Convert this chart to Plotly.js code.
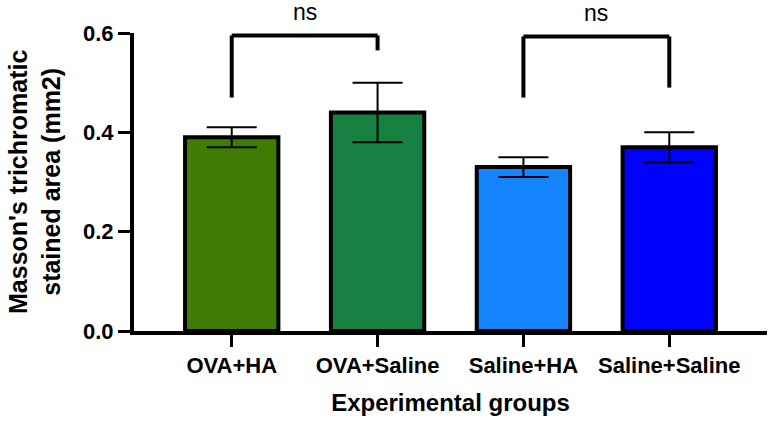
<!DOCTYPE html>
<html>
<head>
<meta charset="utf-8">
<script src="https://cdn.plot.ly/plotly-3.0.1.min.js"></script>
<style>html,body{margin:0;padding:0;background:#fff}#chart{width:776px;height:429px}</style>
</head>
<body>
<div id="chart"></div>
<script>
const categories = ["OVA+HA", "OVA+Saline", "Saline+HA", "Saline+Saline"];
const means = [0.39, 0.44, 0.33, 0.37];
const errors = [0.02, 0.06, 0.02, 0.03];
const yTicks = [0.0, 0.2, 0.4, 0.6];
const yTickLabels = ["0.0", "0.2", "0.4", "0.6"];
// comparison brackets: [left category, right category, left leg end, right leg end, top]
const comparisons = [
  ["OVA+HA", "OVA+Saline", 0.47, 0.565, 0.595],
  ["Saline+HA", "Saline+Saline", 0.47, 0.49, 0.593]
];
const compLabels = ["ns", "ns"];

const barColors = ["#407c03", "#168041", "#1584ff", "#0000fe"];
const FONT = "Liberation Sans, Arial, Helvetica, sans-serif";

const trace = {
  type: "bar",
  x: categories,
  y: means,
  width: 0.64,
  marker: { color: barColors, line: { color: "#000", width: 4 } },
  error_y: { type: "data", array: errors, visible: true, color: "#000", thickness: 2, width: 25 },
  hoverinfo: "none"
};

const layout = {
  width: 776, height: 429,
  margin: { l: 134, r: 9, t: 33, b: 98 },
  paper_bgcolor: "#fff", plot_bgcolor: "#fff",
  showlegend: false,
  font: { family: FONT, color: "#000" },
  xaxis: {
    type: "category",
    range: [-0.67, 3.67],
    showline: true, linecolor: "#000", linewidth: 4,
    ticks: "outside", ticklen: 12, tickwidth: 3, tickcolor: "#000",
    showgrid: false, zeroline: false,
    tickfont: { family: FONT, size: 22, weight: "bold", color: "#000" },
    title: { text: "Experimental groups", font: { family: FONT, size: 24, weight: "bold", color: "#000" }, standoff: 18 }
  },
  yaxis: {
    range: [0, 0.6],
    tickvals: yTicks, ticktext: yTickLabels,
    showline: true, linecolor: "#000", linewidth: 4,
    ticks: "outside", ticklen: 12, tickwidth: 3, tickcolor: "#000",
    showgrid: false, zeroline: false,
    tickfont: { family: FONT, size: 22, weight: "bold", color: "#000" },
    title: { text: "" }
  },
  shapes: [],
  annotations: [{
    xref: "paper", yref: "paper", x: 0, y: 0.5, xshift: -100,
    xanchor: "center", yanchor: "middle", textangle: -90, showarrow: false, align: "center",
    text: "Masson's trichromatic<br>stained area (mm2)",
    font: { family: FONT, size: 25, weight: "bold", color: "#000" }
  }]
};

comparisons.forEach((c, i) => {
  const [a, b, ya, yb, top] = c;
  layout.shapes.push({ type: "line", xref: "x", yref: "y", x0: a, x1: a, y0: ya, y1: top, line: { color: "#000", width: 4 } });
  layout.shapes.push({ type: "line", xref: "x", yref: "y", x0: a, x1: b, y0: top, y1: top, line: { color: "#000", width: 4 } });
  layout.shapes.push({ type: "line", xref: "x", yref: "y", x0: b, x1: b, y0: top, y1: yb, line: { color: "#000", width: 4 } });
  layout.annotations.push({
    x: categories.indexOf(a) + 0.5, y: top, xref: "x", yref: "y",
    yanchor: "bottom", yshift: 8, showarrow: false,
    text: compLabels[i], font: { family: FONT, size: 23, color: "#000" }
  });
});

Plotly.newPlot("chart", [trace], layout, { displayModeBar: false, staticPlot: true });
</script>
</body>
</html>
